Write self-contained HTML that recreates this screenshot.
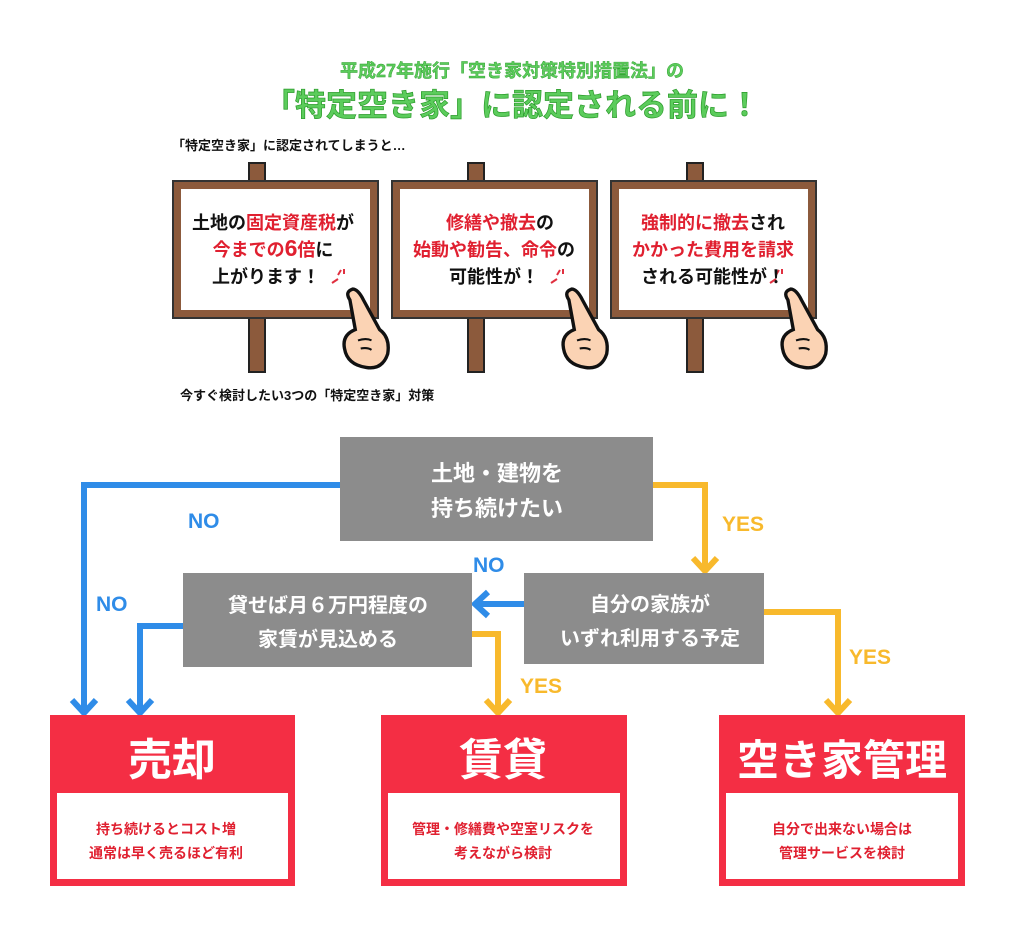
<!DOCTYPE html>
<html><head><meta charset="utf-8"><style>
body{margin:0;background:#fff;width:1024px;height:924px;overflow:hidden;font-family:"Liberation Sans","Noto Sans CJK JP",sans-serif;}
text{font-family:"Liberation Sans","Noto Sans CJK JP",sans-serif;font-weight:bold;}
</style></head><body>
<svg width="1024" height="924" viewBox="0 0 1024 924" xmlns="http://www.w3.org/2000/svg">
<defs>
<g id="sign">
<rect x="77" y="-17" width="16" height="22" fill="#8c5a3c" stroke="#222" stroke-width="2"/>
<rect x="77" y="136" width="16" height="56" fill="#8c5a3c" stroke="#222" stroke-width="2"/>
<rect x="1" y="1" width="205" height="137" fill="#8c5a3c" stroke="#333" stroke-width="2"/>
<rect x="9" y="9" width="189" height="121" fill="#fff"/>
<path d="M160,103 l6,-4 M166,95 l3,-5 M172,94 l0,-5" stroke="#e03040" stroke-width="2" fill="none"/>
<g transform="translate(186,128) scale(1.35)">
<path d="M-6,-6 q-4,-6 2,-8 q4,0 8,8 l12,22 q8,6 6,18 q-4,12 -16,10 q-14,-2 -16,-14 q-2,-10 8,-14 z" fill="#fbd3b4" stroke="#111" stroke-width="2.5"/>
<path d="M0,24 q6,-2 10,0 M2,30 q5,-1 8,1" stroke="#111" stroke-width="1.5" fill="none"/>
</g>
</g>
</defs>
<text x="512" y="77" text-anchor="middle" font-size="18" fill="#5ccc5c" stroke="#2a9a2a" stroke-width="0.4">平成27年施行「空き家対策特別措置法」の</text>
<text x="512" y="116" text-anchor="middle" font-size="31" fill="#5ccc5c" stroke="#2a9a2a" stroke-width="0.7">「特定空き家」に認定される前に！</text>
<text x="172" y="150" font-size="13" fill="#111">「特定空き家」に認定されてしまうと…</text>
<use href="#sign" x="172" y="180"/>
<use href="#sign" x="391" y="180"/>
<use href="#sign" x="610" y="180"/>
<g font-size="18" text-anchor="middle">
<text x="273" y="229"><tspan fill="#111">土地の</tspan><tspan fill="#e02030">固定資産税</tspan><tspan fill="#111">が</tspan></text>
<text x="273" y="256"><tspan fill="#e02030">今までの</tspan><tspan fill="#e02030" font-size="23">6</tspan><tspan fill="#e02030">倍</tspan><tspan fill="#111">に</tspan></text>
<text x="266" y="283" fill="#111">上がります！</text>
<text x="500" y="229"><tspan fill="#e02030">修繕や撤去</tspan><tspan fill="#111">の</tspan></text>
<text x="494" y="256"><tspan fill="#e02030">始動や勧告、命令</tspan><tspan fill="#111">の</tspan></text>
<text x="494" y="283" fill="#111">可能性が！</text>
<text x="713" y="229"><tspan fill="#e02030">強制的に撤去</tspan><tspan fill="#111">され</tspan></text>
<text x="713" y="256" fill="#e02030">かかった費用を請求</text>
<text x="713" y="283" fill="#111">される可能性が！</text>
</g>
<text x="180" y="400" font-size="13" fill="#111">今すぐ検討したい3つの「特定空き家」対策</text>

<g fill="none" stroke-width="6" stroke-linejoin="miter">
<polyline points="340,485 84,485 84,712" stroke="#2f8ce8"/>
<polyline points="72,700 84,713 96,700" stroke="#2f8ce8"/>
<polyline points="183,626 140,626 140,712" stroke="#2f8ce8"/>
<polyline points="128,700 140,713 152,700" stroke="#2f8ce8"/>
<line x1="524" y1="604" x2="476" y2="604" stroke="#2f8ce8"/>
<polyline points="488,592 475,604 488,616" stroke="#2f8ce8"/>
<polyline points="653,485 705,485 705,570" stroke="#f8b92c"/>
<polyline points="693,558 705,571 717,558" stroke="#f8b92c"/>
<polyline points="472,634 498,634 498,712" stroke="#f8b92c"/>
<polyline points="486,700 498,713 510,700" stroke="#f8b92c"/>
<polyline points="764,612 838,612 838,712" stroke="#f8b92c"/>
<polyline points="826,700 838,713 850,700" stroke="#f8b92c"/>
</g>
<g font-size="21" fill="#2f8ce8">
<text x="188" y="528">NO</text><text x="473" y="572">NO</text><text x="96" y="611">NO</text>
</g>
<g font-size="21" fill="#f8b92c">
<text x="722" y="531">YES</text><text x="520" y="693">YES</text><text x="849" y="664">YES</text>
</g>

<rect x="340" y="437" width="313" height="104" fill="#8c8c8c"/>
<text x="497" y="481" text-anchor="middle" font-size="22" fill="#fff">土地・建物を</text>
<text x="497" y="516" text-anchor="middle" font-size="22" fill="#fff">持ち続けたい</text>
<rect x="524" y="573" width="240" height="91" fill="#8c8c8c"/>
<text x="650" y="611" text-anchor="middle" font-size="20" fill="#fff">自分の家族が</text>
<text x="650" y="645" text-anchor="middle" font-size="20" fill="#fff">いずれ利用する予定</text>
<rect x="183" y="573" width="289" height="94" fill="#8c8c8c"/>
<text x="328" y="612" text-anchor="middle" font-size="20" fill="#fff">貸せば月６万円程度の</text>
<text x="328" y="646" text-anchor="middle" font-size="20" fill="#fff">家賃が見込める</text>

<g>
<rect x="50" y="715" width="245" height="171" fill="#f42e44"/>
<rect x="57" y="793" width="231" height="86" fill="#fff"/>
<text x="172" y="775" text-anchor="middle" font-size="44" fill="#fff">売却</text>
<text x="166" y="834" text-anchor="middle" font-size="14" fill="#e02030">持ち続けるとコスト増</text>
<text x="166" y="858" text-anchor="middle" font-size="14" fill="#e02030">通常は早く売るほど有利</text>
<rect x="381" y="715" width="246" height="171" fill="#f42e44"/>
<rect x="388" y="793" width="232" height="86" fill="#fff"/>
<text x="503" y="775" text-anchor="middle" font-size="44" fill="#fff">賃貸</text>
<text x="503" y="834" text-anchor="middle" font-size="14" fill="#e02030">管理・修繕費や空室リスクを</text>
<text x="503" y="858" text-anchor="middle" font-size="14" fill="#e02030">考えながら検討</text>
<rect x="719" y="715" width="246" height="171" fill="#f42e44"/>
<rect x="726" y="793" width="232" height="86" fill="#fff"/>
<text x="842" y="775" text-anchor="middle" font-size="42" fill="#fff">空き家管理</text>
<text x="842" y="834" text-anchor="middle" font-size="14" fill="#e02030">自分で出来ない場合は</text>
<text x="842" y="858" text-anchor="middle" font-size="14" fill="#e02030">管理サービスを検討</text>
</g>
</svg>
</body></html>
